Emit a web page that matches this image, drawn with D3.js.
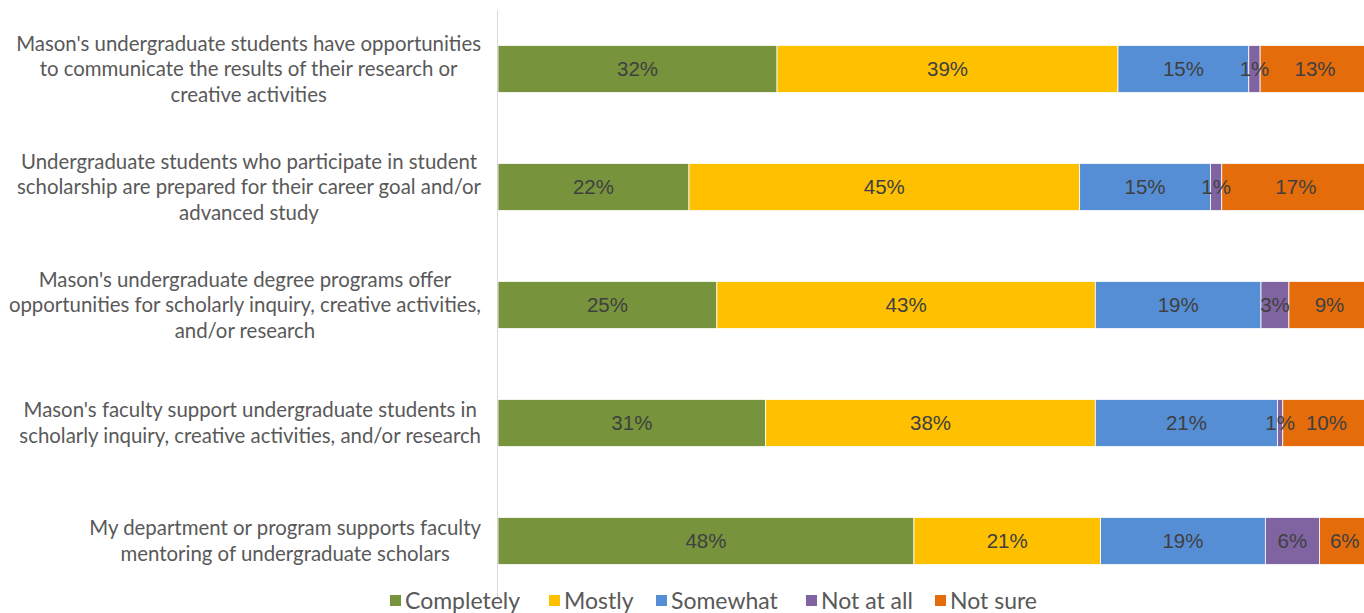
<!DOCTYPE html>
<html>
<head>
<meta charset="utf-8">
<script src="https://cdn.jsdelivr.net/npm/d3@7"></script>
<style>
  body { margin: 0; background: #fff; }
  svg { display: block; }
</style>
</head>
<body>
<svg id="chart" width="1364" height="613"></svg>
<script>
// Stacked 100% bar chart - survey responses
const categories = [
    ["Mason's undergraduate students have opportunities", "to communicate the results of their research or", "creative activities"],
    ["Undergraduate students who participate in student", "scholarship are prepared for their career goal and/or", "advanced study"],
    ["Mason's undergraduate degree programs offer", "opportunities for scholarly inquiry, creative activities,", "and/or research"],
    ["Mason's faculty support undergraduate students in", "scholarly inquiry, creative activities, and/or research"],
    ["My department or program supports faculty", "mentoring of undergraduate scholars"]
];
const seriesNames = ["Completely", "Mostly", "Somewhat", "Not at all", "Not sure"];
const seriesColors = ["#77933C", "#FFC000", "#558ED5", "#8064A2", "#E46C0A"];

const completely = [32.0, 21.9, 25.1, 30.7, 47.7];
const mostly     = [39.1, 44.8, 43.4, 37.8, 21.4];
const somewhat   = [15.0, 15.0, 19.0, 20.9, 18.9];
const notAtAll   = [1.3, 1.3, 3.2, 0.6, 6.2];
const notSure    = [12.6, 17.0, 9.3, 10.0, 5.8];

const seriesValues = [completely, mostly, somewhat, notAtAll, notSure];

const svg = d3.select('#chart');
const ids = categories.map((c, i) => 'c' + i);

const rows = ids.map((id, i) => {
    const r = { id: id };
    seriesNames.forEach((s, j) => { r[s] = seriesValues[j][i]; });
    return r;
});
const stacked = d3.stack().keys(seriesNames)(rows);

const x = d3.scaleLinear().domain([0, 100]).range([498, 1370]);
const y = d3.scaleBand().domain(ids).range([10, 600]).paddingInner(0.6).paddingOuter(0.3);
const color = d3.scaleOrdinal().domain(seriesNames).range(seriesColors);

// bars
svg.append('g')
    .selectAll('g')
    .data(stacked)
    .join('g')
    .attr('fill', d => color(d.key))
    .selectAll('rect')
    .data(d => d)
    .join('rect')
    .attr('x', d => x(d[0]))
    .attr('y', d => y(d.data.id))
    .attr('width', d => x(d[1]) - x(d[0]))
    .attr('height', y.bandwidth())
    .attr('stroke', '#fff')
    .attr('stroke-width', 0.8);

// value labels (drawn after all bars so small ones overflow on top)
svg.append('g')
    .selectAll('g')
    .data(stacked)
    .join('g')
    .selectAll('text')
    .data(d => d)
    .join('text')
    .attr('x', d => (x(d[0]) + x(d[1])) / 2)
    .attr('y', d => y(d.data.id) + y.bandwidth() / 2)
    .attr('dy', '0.36em')
    .attr('text-anchor', 'middle')
    .style('font-family', '"Liberation Sans", Arial, sans-serif')
    .style('font-size', '20.5px')
    .style('fill', '#404040')
    .text(d => Math.round(d[1] - d[0]) + '%');

// vertical axis line
svg.append('line')
    .attr('x1', 497.5).attr('x2', 497.5)
    .attr('y1', 10).attr('y2', 600)
    .attr('stroke', '#d9d9d9')
    .attr('stroke-width', 1);

// category labels: block right-aligned, lines centered in block
const labelRight = 481;
const lineH = 25.5;
categories.forEach((lines, i) => {
    const g = svg.append('g');
    const cy = y(ids[i]) + y.bandwidth() / 2;
    const texts = g.selectAll('text')
        .data(lines)
        .join('text')
        .attr('text-anchor', 'middle')
        .attr('y', (d, k) => cy + (k - (lines.length - 1) / 2) * lineH)
        .attr('dy', '0.35em')
        .style('font-family', 'Lato, "Open Sans", sans-serif')
        .style('font-size', '20.4px')
        .style('fill', '#595959')
        .text(d => d);
    let maxW = 0;
    texts.each(function() { maxW = Math.max(maxW, this.getComputedTextLength()); });
    texts.attr('x', labelRight - maxW / 2);
});

// legend
const legendX = [390, 549, 656, 806, 935];
const legend = svg.append('g')
    .selectAll('g')
    .data(seriesNames)
    .join('g')
    .attr('transform', (d, i) => `translate(${legendX[i]},600)`);

legend.append('rect')
    .attr('x', 0).attr('y', -5)
    .attr('width', 11).attr('height', 11)
    .attr('fill', d => color(d));

legend.append('text')
    .attr('x', 15)
    .attr('y', 1)
    .attr('dy', '0.35em')
    .style('font-family', 'Lato, "Open Sans", sans-serif')
    .style('font-size', '23px')
    .style('fill', '#595959')
    .text(d => d);
</script>
</body>
</html>
